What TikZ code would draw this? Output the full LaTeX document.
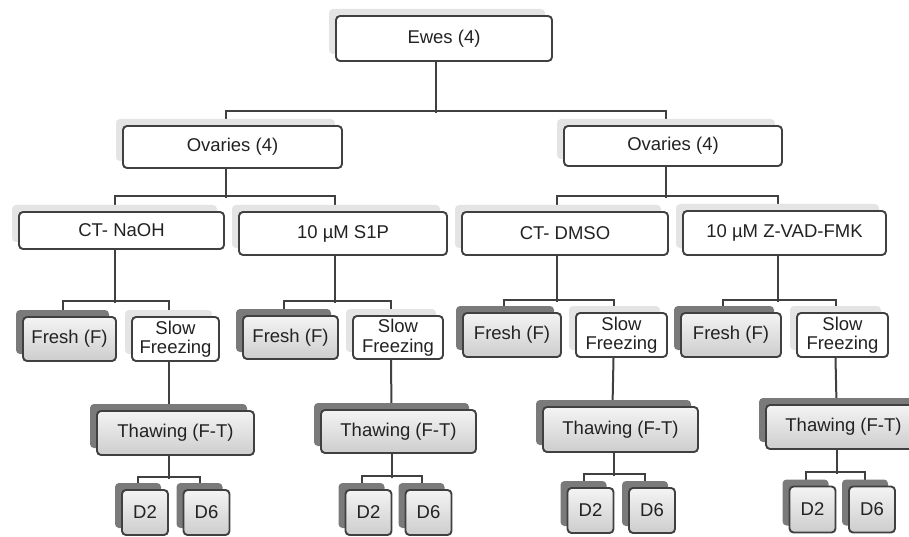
\documentclass[tikz,border=0pt]{standalone}
\usepackage{fontspec}
\setmainfont{Liberation Sans}
\usetikzlibrary{shadows,backgrounds}
\definecolor{bdr}{HTML}{404040}
\definecolor{txt}{HTML}{222222}
\definecolor{lshadow}{HTML}{E4E4E4}
\definecolor{dshadow}{HTML}{7A7A7A}
\definecolor{gtop}{HTML}{F4F4F4}
\definecolor{gbot}{HTML}{CDCDCD}
\begin{document}
\begin{tikzpicture}[x=1pt,y=-1pt,
  basebox/.style={draw=bdr, line width=1.9pt, rounded corners=4pt, text=txt,
    font=\fontsize{18.5}{19.5}\selectfont, inner sep=0pt, align=center},
  wbox/.style={basebox, fill=white,
    drop shadow={shadow xshift=-7pt, shadow yshift=7pt, fill=lshadow, opacity=1}},
  gbox/.style={basebox, top color=gtop, bottom color=gbot,
    drop shadow={shadow xshift=-7pt, shadow yshift=7pt, fill=dshadow, opacity=1}},
  sz/.style 2 args={minimum width=#1pt, minimum height=#2pt},
  conn/.style={draw=bdr, line width=2pt}]
\useasboundingbox (0,0) rectangle (909,537);
\clip (0,0) rectangle (909,537);

% level 0 and 1
\node[wbox, sz={216}{45}] (ewes) at (444,38.5) {Ewes (4)};
\node[wbox, sz={219}{42}] (ov1) at (232.5,147) {Ovaries (4)};
\node[wbox, sz={218}{40}] (ov2) at (673,146) {Ovaries (4)};

% level 2
\node[wbox, sz={205}{37}] (t1) at (121.5,230.5) {CT- NaOH};
\node[wbox, sz={208}{43}] (t2) at (343,233.5) {10 µM S1P};
\node[wbox, sz={206}{43}] (t3) at (565,233.5) {CT- DMSO};
\node[wbox, sz={203}{44}] (t4) at (784.5,233) {10 µM Z-VAD-FMK};

% level 3
\node[gbox, sz={93}{44}] (f1) at (69.5,339) {Fresh (F)};
\node[wbox, sz={87}{44}] (s1) at (175.5,339) {Slow\\Freezing};
\node[gbox, sz={95}{43}] (f2) at (290.5,337.5) {Fresh (F)};
\node[wbox, sz={90}{43}] (s2) at (398,337.5) {Slow\\Freezing};
\node[gbox, sz={98}{44}] (f3) at (512,335) {Fresh (F)};
\node[wbox, sz={91}{44}] (s3) at (621.5,335) {Slow\\Freezing};
\node[gbox, sz={100}{44}] (f4) at (731,335) {Fresh (F)};
\node[wbox, sz={91}{44}] (s4) at (842.5,335) {Slow\\Freezing};

% level 4
\node[gbox, sz={157}{44}] (th1) at (175.5,433) {Thawing (F-T)};
\node[gbox, sz={155}{43}] (th2) at (398.5,431.5) {Thawing (F-T)};
\node[gbox, sz={155}{45}] (th3) at (620.5,429.5) {Thawing (F-T)};
\node[gbox, sz={155}{44}] (th4) at (843.5,427) {Thawing (F-T)};

% level 5
\node[gbox, sz={46}{45}] (a1) at (145,512.5) {D2};
\node[gbox, sz={46}{45}] (b1) at (206.5,512.5) {D6};
\node[gbox, sz={46}{45}] (a2) at (368.5,512.5) {D2};
\node[gbox, sz={46}{45}] (b2) at (428.5,512.5) {D6};
\node[gbox, sz={46}{45}] (a3) at (590.5,510.5) {D2};
\node[gbox, sz={46}{45}] (b3) at (652,510.5) {D6};
\node[gbox, sz={46}{46}] (a4) at (812.5,509.5) {D2};
\node[gbox, sz={46}{46}] (b4) at (872,509.5) {D6};

\begin{pgfonlayer}{background}
\fill[white] (0,0) rectangle (909,537);
% Ewes -> Ovaries
\draw[conn] ([xshift=-8pt]ewes.south) -- ++(0,51);
\draw[conn] ([xshift=-7pt]ov1.north) -- ++(0,-14) -| ([xshift=-7pt]ov2.north);
% Ovaries -> treatments
\draw[conn] ([xshift=-7pt]ov1.south) -- ++(0,29);
\draw[conn] ([xshift=-7pt]t1.north) -- ++(0,-15) -| ([xshift=-8pt]t2.north);
\draw[conn] ([xshift=-7pt]ov2.south) -- ++(0,31);
\draw[conn] ([xshift=-8pt]t3.north) -- ++(0,-15) -| ([xshift=-7pt]t4.north);
% treatments -> Fresh / Slow
\draw[conn] ([xshift=-7pt]t1.south) -- ++(0,53);
\draw[conn] ([xshift=-7pt]f1.north) -- ++(0,-15) -| ([xshift=-7pt]s1.north);
\draw[conn] ([xshift=-8pt]t2.south) -- ++(0,47);
\draw[conn] ([xshift=-7pt]f2.north) -- ++(0,-14) -| ([xshift=-7pt]s2.north);
\draw[conn] ([xshift=-8pt]t3.south) -- ++(0,46);
\draw[conn] ([xshift=-8pt]f3.north) -- ++(0,-12) -| ([xshift=-8pt]s3.north);
\draw[conn] ([xshift=-7pt]t4.south) -- ++(0,46);
\draw[conn] ([xshift=-8pt]f4.north) -- ++(0,-12) -| ([xshift=-7pt]s4.north);
% Slow -> Thawing
\draw[conn] ([xshift=-7pt]s1.south) -- ([xshift=-7pt]th1.north);
\draw[conn] ([xshift=-7pt]s2.south) -- ([xshift=-7pt]th2.north);
\draw[conn] ([xshift=-8pt]s3.south) -- ([xshift=-8pt]th3.north);
\draw[conn] ([xshift=-7pt]s4.south) -- ([xshift=-7pt]th4.north);
% Thawing -> D2 / D6
\draw[conn] ([xshift=-7pt]th1.south) -- ++(0,23);
\draw[conn] ([xshift=-7pt]a1.north) -- ++(0,-12) -| ([xshift=-7pt]b1.north);
\draw[conn] ([xshift=-7pt]th2.south) -- ++(0,24);
\draw[conn] ([xshift=-7pt]a2.north) -- ++(0,-13) -| ([xshift=-7pt]b2.north);
\draw[conn] ([xshift=-7pt]th3.south) -- ++(0,23);
\draw[conn] ([xshift=-7pt]a3.north) -- ++(0,-13) -| ([xshift=-7pt]b3.north);
\draw[conn] ([xshift=-7pt]th4.south) -- ++(0,24);
\draw[conn] ([xshift=-7pt]a4.north) -- ++(0,-14) -| ([xshift=-7pt]b4.north);
\end{pgfonlayer}
\end{tikzpicture}
\end{document}
